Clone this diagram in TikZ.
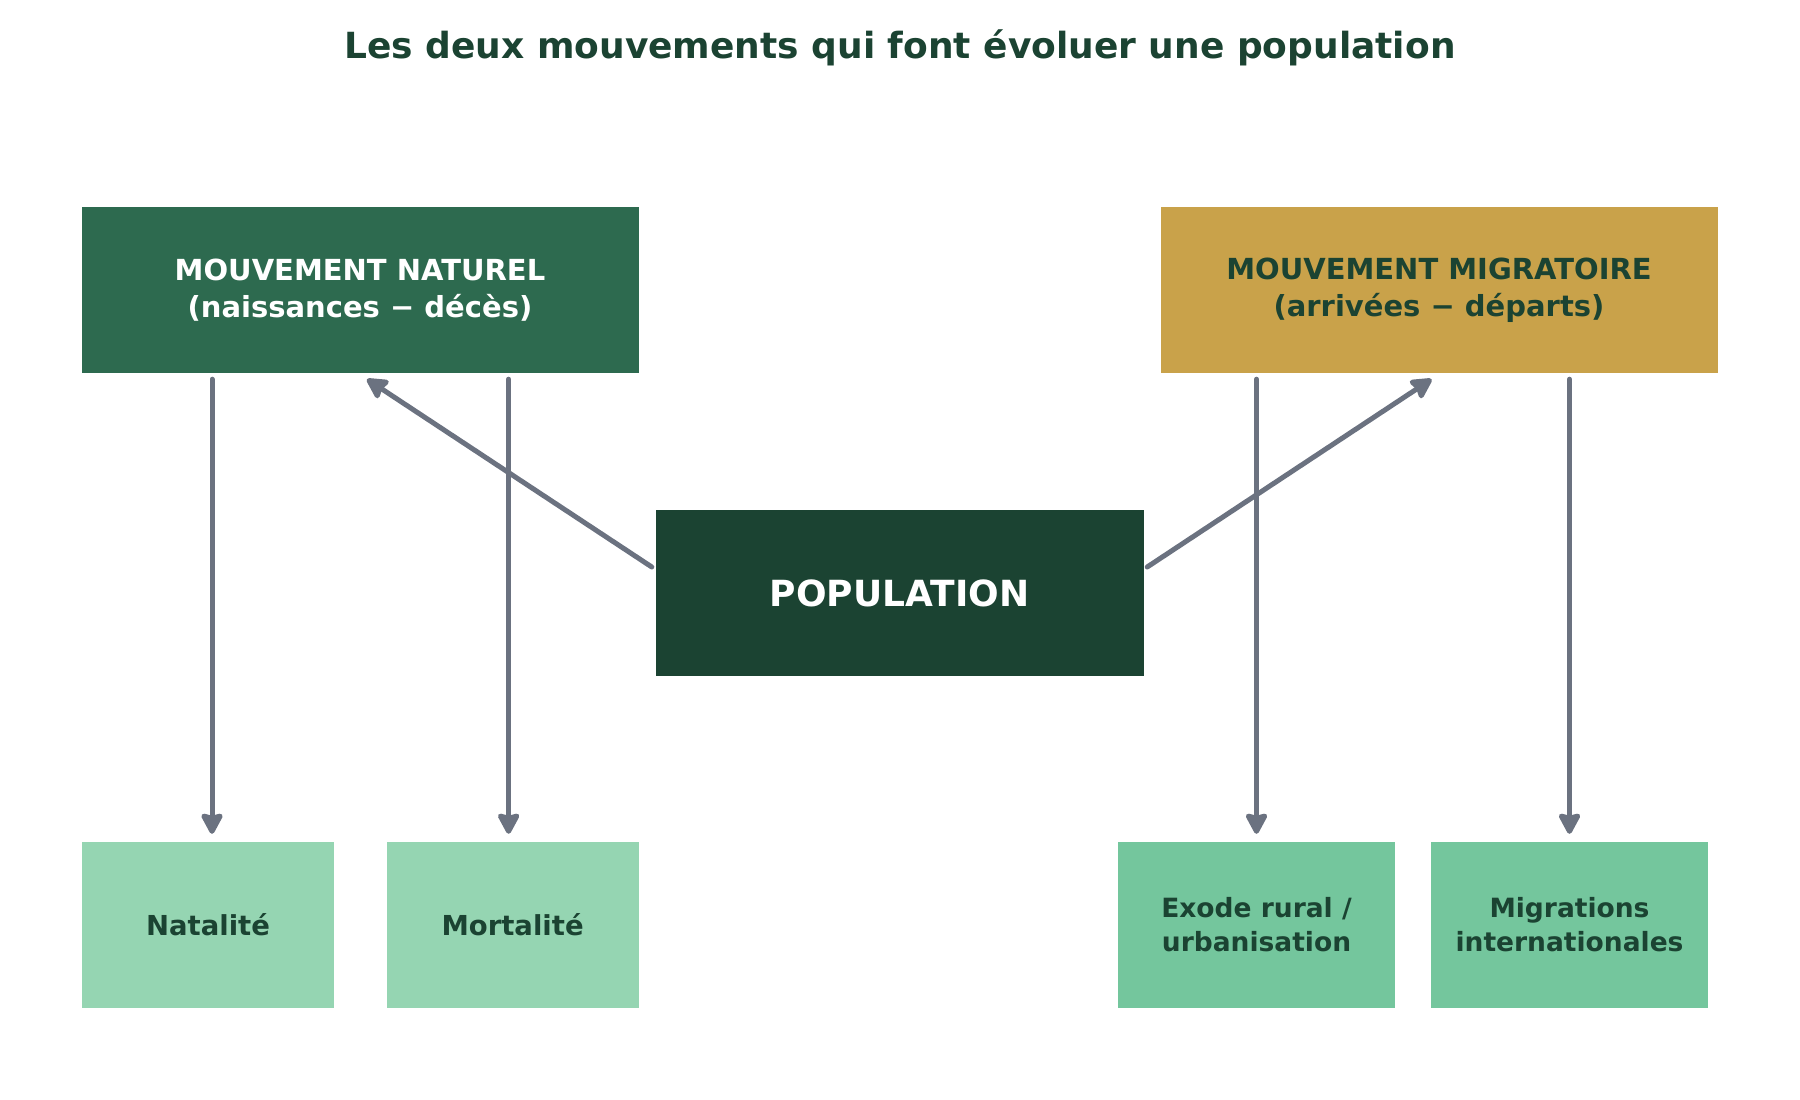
\documentclass[tikz,border=0pt]{standalone}
\usepackage{fontspec}
\setmainfont{DejaVu Sans}
\usetikzlibrary{arrows.meta,positioning}

\definecolor{foret}{HTML}{1B4332}
\definecolor{vertnat}{HTML}{2D6A4F}
\definecolor{ocre}{HTML}{C9A24A}
\definecolor{vertpale}{HTML}{95D5B2}
\definecolor{vertmoyen}{HTML}{74C69D}
\definecolor{ardoise}{HTML}{6B7280}

\begin{document}
\begin{tikzpicture}[
                        x=1pt, y=-1pt,
                        ->,
                        >={Stealth[length=24pt,width=25pt,inset=3pt,round]},
                        node distance=305pt
                    ]
                    \tikzstyle{bloc}=[rectangle,inner sep=0pt,align=center,minimum height=166pt,font=\bfseries]
                    \tikzstyle{lien}=[draw=ardoise,line width=5pt,line cap=round]
                    \tikzstyle{descente}=[lien,shorten <=6pt,shorten >=8pt]

                    \useasboundingbox (0,0) rectangle (1800,1100);

                    \node[text=foret,font=\bfseries\fontsize{36}{43}\selectfont] (titre) at (900,48)
                        {Les deux mouvements qui font évoluer une population} ;

                    \node[bloc,fill=vertnat,text=white,minimum width=557pt,font=\bfseries\fontsize{29}{37}\selectfont]
                        (naturel) at (360,290) {MOUVEMENT NATUREL\\(naissances − décès)} ;
                    \node[bloc,fill=ocre,text=foret,minimum width=557pt,font=\bfseries\fontsize{29}{37}\selectfont]
                        (migratoire) at (1439,290) {MOUVEMENT MIGRATOIRE\\(arrivées − départs)} ;
                    \node[bloc,fill=foret,text=white,minimum width=488pt,font=\bfseries\fontsize{36}{43}\selectfont]
                        (population) at (899.5,593) {POPULATION} ;

                    \node[bloc,fill=vertpale,text=foret,minimum width=252pt,font=\bfseries\fontsize{27.5}{34}\selectfont]
                        (natalite) at (208,925) {Natalité} ;
                    \node[bloc,fill=vertpale,text=foret,minimum width=252pt,font=\bfseries\fontsize{27.5}{34}\selectfont]
                        (mortalite) [right of=natalite,node distance=304.6pt] {Mortalité} ;
                    \node[bloc,fill=vertmoyen,text=foret,minimum width=277pt,font=\bfseries\fontsize{26.5}{34}\selectfont]
                        (exode) at (1256.5,925) {Exode rural /\\urbanisation} ;
                    \node[bloc,fill=vertmoyen,text=foret,minimum width=277pt,font=\bfseries\fontsize{26.5}{34}\selectfont]
                        (migrations) [right of=exode,node distance=313pt] {Migrations\\internationales} ;

                    \path
                    ([xshift=-3.5pt,yshift=26pt]population.west) edge [lien] ([xshift=7pt,yshift=-6pt]naturel.south)
                    ([xshift=3.5pt,yshift=26pt]population.east)  edge [lien] ([xshift=-7.5pt,yshift=-6pt]migratoire.south)
                    ([xshift=4pt]natalite.north |- naturel.south)     edge [descente] ([xshift=4pt]natalite.north)
                    ([xshift=-4pt]mortalite.north |- naturel.south)   edge [descente] ([xshift=-4pt]mortalite.north)
                    (exode.north |- migratoire.south)                 edge [descente] (exode.north)
                    (migrations.north |- migratoire.south)            edge [descente] (migrations.north) ;

                \end{tikzpicture}
\end{document}
